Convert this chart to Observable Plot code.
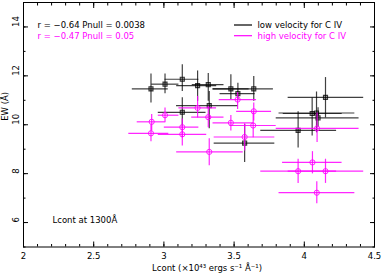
<!DOCTYPE html>
<html><head><meta charset="utf-8">
<script src="https://cdn.jsdelivr.net/npm/d3@7"></script>
<script src="https://cdn.jsdelivr.net/npm/@observablehq/plot@0.6"></script>
<style>body{margin:0;background:#fff} #chart svg{display:block}</style>
</head><body><div id="chart"></div>
<script>
// Low velocity for C IV (black)
const lowX   = [2.908, 3.008, 3.131, 3.240, 3.316, 3.477, 3.527, 3.640, 3.131, 3.323, 3.575, 3.956, 4.056, 4.087, 4.098, 4.151];
const lowY   = [11.47, 11.66, 11.86, 11.60, 11.64, 11.47, 11.27, 11.47, 10.51, 10.78, 9.25, 9.77, 10.46, 10.48, 10.28, 11.12];
const lowXlo = [2.775, 2.913, 3.008, 3.091, 3.202, 3.350, 3.400, 3.350, 2.960, 3.090, 3.358, 3.690, 3.850, 3.820, 3.800, 3.885];
const lowXhi = [3.031, 3.107, 3.249, 3.376, 3.428, 3.607, 3.650, 3.780, 3.300, 3.530, 3.790, 4.230, 4.270, 4.360, 4.390, 4.423];
const lowYlo = [10.89, 11.27, 11.36, 10.96, 10.96, 11.03, 11.03, 10.96, 9.94, 9.84, 8.46, 9.05, 9.54, 9.67, 9.90, 10.28];
const lowYhi = [12.08, 12.08, 12.45, 12.20, 12.10, 12.04, 11.70, 11.97, 11.10, 11.36, 10.01, 10.53, 11.09, 11.34, 10.70, 11.93];

// High velocity for C IV (magenta)
const highX   = [2.913, 2.908, 3.008, 3.131, 3.131, 3.240, 3.316, 3.323, 3.477, 3.525, 3.575, 3.636, 3.640, 3.956, 4.058, 4.091, 4.151, 4.089];
const highY   = [10.12, 9.65, 10.39, 9.90, 9.61, 10.69, 10.31, 8.89, 10.08, 11.03, 9.50, 9.97, 10.55, 8.10, 8.46, 9.85, 8.10, 7.22];
const highXlo = [2.810, 2.750, 2.960, 3.003, 2.960, 3.107, 3.198, 3.091, 3.350, 3.394, 3.358, 3.470, 3.518, 3.690, 3.845, 3.800, 3.885, 3.820];
const highXhi = [3.010, 3.035, 3.107, 3.249, 3.305, 3.375, 3.428, 3.565, 3.640, 3.660, 3.790, 3.800, 3.767, 4.230, 4.269, 4.390, 4.423, 4.360];
const highYlo = [9.74, 9.30, 10.08, 9.47, 9.13, 10.28, 9.88, 8.32, 9.74, 10.62, 8.93, 9.47, 10.15, 7.60, 7.99, 9.27, 7.60, 6.77];
const highYhi = [10.42, 10.00, 10.69, 10.24, 9.94, 11.16, 10.76, 9.43, 10.38, 11.32, 10.04, 10.50, 10.89, 8.59, 8.90, 10.48, 8.59, 7.67];

const xTickLabels = [2, 2.5, 3, 3.5, 4, 4.5];
const yTickLabels = [6, 8, 10, 12, 14];
const xMinorTicks = d3.range(20, 46).map(d => d / 10);
const yMinorTicks = d3.range(5, 16);

const stats = ["r = \u22120.64 Pnull = 0.0038", "r = \u22120.47 Pnull = 0.05"];
const legendLabels = ["low velocity for C IV", "high velocity for C IV"];
const colors = ["#000000", "#ff00ff"];

const low = lowX.map((x, i) => ({x, y: lowY[i], xlo: lowXlo[i], xhi: lowXhi[i], ylo: lowYlo[i], yhi: lowYhi[i]}));
const high = highX.map((x, i) => ({x, y: highY[i], xlo: highXlo[i], xhi: highXhi[i], ylo: highYlo[i], yhi: highYhi[i]}));

const rowGap = 10.7;

function legendLines(index, scales, values, dims) {
  const g = d3.create("svg:g");
  const x0 = dims.marginLeft + 211, x1 = dims.marginLeft + 229;
  [0, 1].forEach(i => {
    const yy = dims.marginTop + 23 + i * rowGap;
    g.append("line")
      .attr("x1", x0).attr("x2", x1)
      .attr("y1", yy).attr("y2", yy)
      .attr("stroke", colors[i]).attr("stroke-width", 1.2);
  });
  return g.node();
}

const textMarks = [];
[0, 1].forEach(i => {
  textMarks.push(Plot.text([stats[i]], {frameAnchor: "top-left", dx: 14, dy: 23 + i * rowGap, textAnchor: "start", lineAnchor: "middle", fill: colors[i]}));
  textMarks.push(Plot.text([legendLabels[i]], {frameAnchor: "top-left", dx: 234, dy: 23 + i * rowGap, textAnchor: "start", lineAnchor: "middle", fill: colors[i]}));
});

const plot = Plot.plot({
  width: 382,
  height: 274,
  marginLeft: 23,
  marginRight: 8,
  marginTop: 2,
  marginBottom: 27.5,
  style: {fontFamily: "'DejaVu Sans', sans-serif", fontSize: "8.5px", background: "#fff", color: "#000"},
  x: {domain: [2, 4.5]},
  y: {domain: [5, 15]},
  marks: [
    // inward ticks on all four sides
    Plot.axisX(xMinorTicks, {anchor: "bottom", tickSize: -2.5, fill: "none", label: null}),
    Plot.axisX(xMinorTicks, {anchor: "top", tickSize: -2.5, fill: "none", label: null}),
    Plot.axisX(xTickLabels, {anchor: "bottom", tickSize: -5, fill: "none", label: null}),
    Plot.axisX(xTickLabels, {anchor: "top", tickSize: -5, fill: "none", label: null}),
    Plot.axisY(yMinorTicks, {anchor: "left", tickSize: -2.5, fill: "none", label: null}),
    Plot.axisY(yMinorTicks, {anchor: "right", tickSize: -2.5, fill: "none", label: null}),
    Plot.axisY(yTickLabels, {anchor: "left", tickSize: -5, fill: "none", label: null}),
    Plot.axisY(yTickLabels, {anchor: "right", tickSize: -5, fill: "none", label: null}),
    Plot.frame({stroke: "#000", strokeWidth: 1}),
    // tick labels
    Plot.text(xTickLabels, {x: d => d, frameAnchor: "bottom", dy: 9.5, lineAnchor: "middle", text: d => String(d), fill: "#000"}),
    Plot.text(yTickLabels, {y: d => d, frameAnchor: "left", dx: -7.5, rotate: -90, lineAnchor: "middle", text: d => String(d), fill: "#000"}),
    // axis titles
    Plot.text(["Lcont (\u00d710\u2074\u00b3 ergs s\u207b\u00b9 \u00c5\u207b\u00b9)"], {frameAnchor: "bottom", dx: 8, dy: 21.5, lineAnchor: "middle", fill: "#000"}),
    Plot.text(["EW (\u00c5)"], {frameAnchor: "left", dx: -18, dy: -4, rotate: -90, lineAnchor: "middle", fill: "#000"}),
    // low velocity error bars
    Plot.ruleY(low, {y: "y", x1: "xlo", x2: "xhi", stroke: colors[0], strokeOpacity: 0.75, strokeWidth: 1.2}),
    Plot.ruleX(low, {x: "x", y1: "ylo", y2: "yhi", stroke: colors[0], strokeOpacity: 0.75, strokeWidth: 1.2}),
    Plot.dot(low, {x: "x", y: "y", symbol: "square", r: 2.3, stroke: colors[0], strokeOpacity: 0.75, fill: colors[0], fillOpacity: 0.25, strokeWidth: 1.1}),
    // high velocity error bars
    Plot.ruleY(high, {y: "y", x1: "xlo", x2: "xhi", stroke: colors[1], strokeOpacity: 0.85, strokeWidth: 1.2}),
    Plot.ruleX(high, {x: "x", y1: "ylo", y2: "yhi", stroke: colors[1], strokeOpacity: 0.85, strokeWidth: 1.2}),
    Plot.dot(high, {x: "x", y: "y", r: 2.6, stroke: colors[1], strokeOpacity: 0.85, fill: "none", strokeWidth: 1}),
    // annotations
    ...textMarks,
    legendLines,
    Plot.text(["Lcont at 1300\u00c5"], {frameAnchor: "bottom-left", dx: 29, dy: -26.5, textAnchor: "start", lineAnchor: "middle", fill: "#000"})
  ]
});
document.getElementById("chart").appendChild(plot);
</script>
</body></html>
